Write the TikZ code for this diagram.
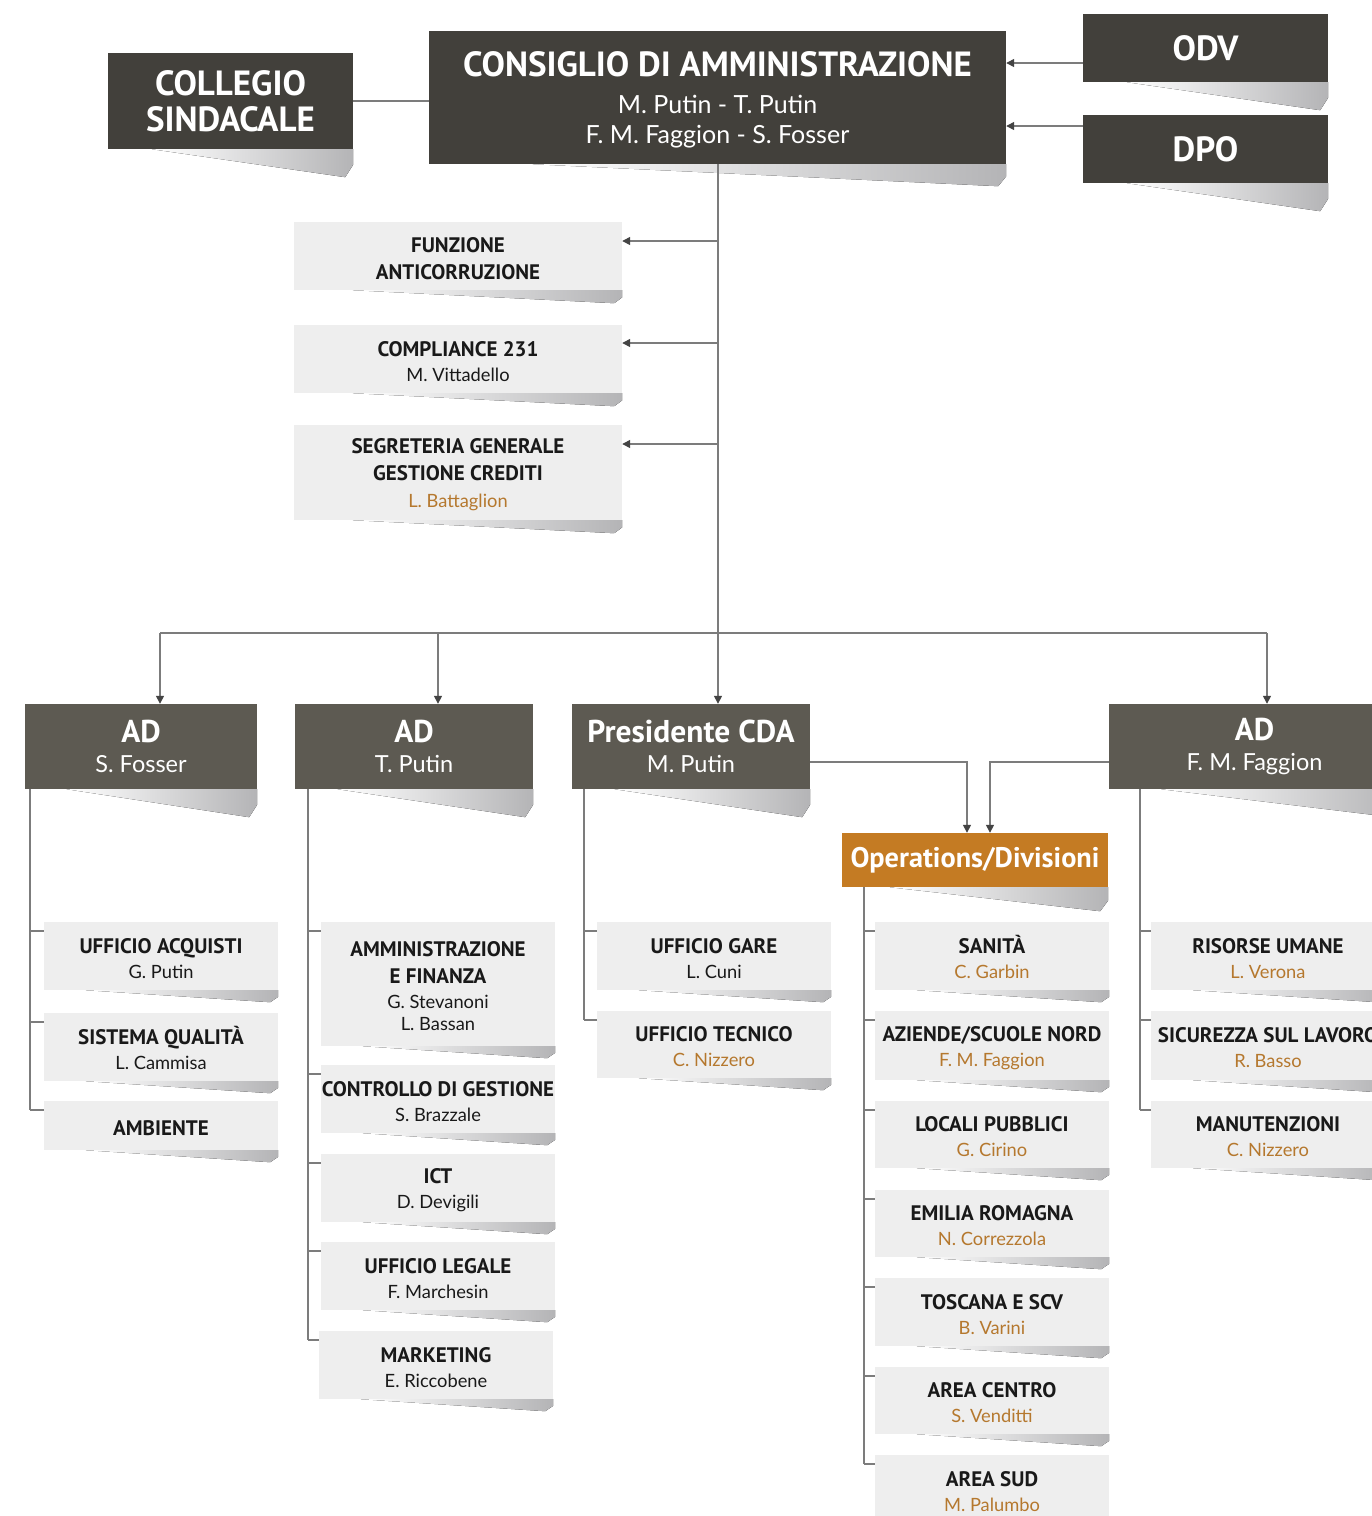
\documentclass[tikz,border=0pt]{standalone}
\usepackage{fontspec}
\setmainfont{PT Sans}
\newfontfamily\nf{Lato}
\usetikzlibrary{arrows.meta,calc}
\definecolor{dark}{HTML}{42403B}
\definecolor{mid}{HTML}{5D5A52}
\definecolor{ora}{HTML}{C47B23}
\definecolor{lite}{HTML}{EEEEEE}
\definecolor{nm}{HTML}{B5782E}
\definecolor{lnc}{HTML}{7C7C7C}
\definecolor{tipc}{HTML}{444444}
\definecolor{shc}{HTML}{B4B4B6}
\newcommand\bt[1]{{\rmfamily\bfseries #1}}
\newcommand\st[1]{{\fontsize{21}{25}\selectfont\rmfamily\bfseries\rule{0pt}{20pt}#1}}
\newcommand\on[1]{\textcolor{nm}{#1}}
\newcommand\mkbox[7]{%
  \node[#2, minimum width={(#5-#3)*1pt}, minimum height={(#6-#4)*1pt}] (#1) at ({(#3+#5)/2},{-(#4+#6)/2}) {#7};}
\newcommand\shad[2]{%
  \fill[left color=white, right color=shc] ($(#1.south west)!0.18!(#1.south east)$) -- (#1.south east) -- ($(#1.south east)+(0,{-0.55*#2})$) -- ($(#1.south east)+(-8,-#2)$) -- cycle;}
\newcommand\att[2]{%
  \coordinate (#1-a) at ($(#1.north west)+(0,-9)$);
  \draw[ln] (#1-a) -- (#2 |- #1-a);}
\begin{document}
\begin{tikzpicture}[x=1pt,y=1pt,
  ln/.style={draw=lnc, line width=1.4pt},
  arr/.style={ln, -{Triangle[length=8pt,width=8pt,color=tipc]}},
  topbox/.style={fill=dark, text=white, inner sep=0pt, align=center},
  adbox/.style={fill=mid, text=white, inner sep=0pt, align=center, font=\fontsize{23.5}{30}\selectfont\nf},
  opbox/.style={fill=ora, text=white, inner sep=0pt, align=center, font=\fontsize{28.3}{30}\selectfont\rmfamily\bfseries},
  lbox/.style={fill=lite, text=black!90, inner sep=0pt, align=center, font=\fontsize{18.3}{25}\selectfont\nf}
]
\clip (0,0) rectangle (1372,-1516);
\fill[white] (0,0) rectangle (1372,-1516);

% ---------- top level ----------
\mkbox{col}{topbox, font=\fontsize{35}{36}\selectfont\bfseries}{108}{53}{353}{149}{COLLEGIO\\SINDACALE}
\mkbox{cda}{topbox, font=\fontsize{25}{30}\selectfont\nf}{429}{31}{1006}{164}{{\fontsize{35}{35}\selectfont\rmfamily\bfseries\rule{0pt}{30pt}CONSIGLIO DI AMMINISTRAZIONE}\\[7pt]M. Putin - T. Putin\\F. M. Faggion - S. Fosser}
\mkbox{odv}{topbox, font=\fontsize{35}{35}\selectfont\bfseries}{1083}{14}{1328}{82}{ODV}
\mkbox{dpo}{topbox, font=\fontsize{35}{35}\selectfont\bfseries}{1083}{115}{1328}{183}{DPO}
\shad{col}{28}\shad{cda}{22}\shad{odv}{28}\shad{dpo}{28}

% ---------- staff ----------
\mkbox{funz}{lbox}{294}{222}{622}{290}{\st{FUNZIONE}\\[2pt]\st{ANTICORRUZIONE}}
\mkbox{comp}{lbox}{294}{325}{622}{393}{\st{COMPLIANCE 231}\\M. Vittadello}
\mkbox{segr}{lbox}{294}{425}{622}{520}{\st{SEGRETERIA GENERALE}\\[2pt]\st{GESTIONE CREDITI}\\[2pt]\on{L. Battaglion}}
\shad{funz}{13}\shad{comp}{13}\shad{segr}{13}

% ---------- AD level ----------
\mkbox{adf}{adbox}{25}{704}{257}{789}{\bt{\fontsize{31.5}{31}\selectfont AD}\\S. Fosser}
\mkbox{adp}{adbox}{295}{704}{533}{789}{\bt{\fontsize{31.5}{31}\selectfont AD}\\T. Putin}
\mkbox{pres}{adbox}{572}{704}{810}{789}{\bt{\fontsize{31.5}{31}\selectfont Presidente CDA}\\M. Putin}
\mkbox{adg}{adbox}{1109}{704}{1400}{789}{\bt{\fontsize{31.5}{31}\selectfont AD}\\F. M. Faggion}
\shad{adf}{28}\shad{adp}{28}\shad{pres}{28}\shad{adg}{28}
\mkbox{ops}{opbox}{842}{833}{1108}{887}{Operations/Divisioni}
\shad{ops}{24}

% ---------- column 1 ----------
\mkbox{acq}{lbox}{44}{922}{278}{990}{\st{UFFICIO ACQUISTI}\\G. Putin}
\mkbox{qual}{lbox}{44}{1013}{278}{1081}{\st{SISTEMA QUALITÀ}\\L. Cammisa}
\mkbox{amb}{lbox}{44}{1101}{278}{1150}{\st{AMBIENTE}}
% ---------- column 2 ----------
\mkbox{amm}{lbox}{321}{922}{555}{1046}{\st{AMMINISTRAZIONE}\\[2pt]\st{E FINANZA}\\G. Stevanoni\\[-3pt]L. Bassan}
\mkbox{cdg}{lbox}{321}{1065}{555}{1133}{\st{CONTROLLO DI GESTIONE}\\S. Brazzale}
\mkbox{ict}{lbox}{321}{1154}{555}{1222}{\st{ICT}\\D. Devigili}
\mkbox{leg}{lbox}{321}{1242}{555}{1310}{\st{UFFICIO LEGALE}\\F. Marchesin}
\mkbox{mkt}{lbox}{319}{1331}{553}{1399}{\st{MARKETING}\\E. Riccobene}
% ---------- column 3 ----------
\mkbox{gare}{lbox}{597}{922}{831}{990}{\st{UFFICIO GARE}\\L. Cuni}
\mkbox{tecn}{lbox}{597}{1011}{831}{1078}{\st{UFFICIO TECNICO}\\\on{C. Nizzero}}
% ---------- column 4 ----------
\mkbox{san}{lbox}{875}{922}{1109}{990}{\st{SANITÀ}\\\on{C. Garbin}}
\mkbox{azi}{lbox}{875}{1011}{1109}{1080}{\st{AZIENDE/SCUOLE NORD}\\\on{F. M. Faggion}}
\mkbox{loc}{lbox}{875}{1101}{1109}{1168}{\st{LOCALI PUBBLICI}\\\on{G. Cirino}}
\mkbox{emi}{lbox}{875}{1190}{1109}{1257}{\st{EMILIA ROMAGNA}\\\on{N. Correzzola}}
\mkbox{tos}{lbox}{875}{1278}{1109}{1346}{\st{TOSCANA E SCV}\\\on{B. Varini}}
\mkbox{cen}{lbox}{875}{1367}{1109}{1434}{\st{AREA CENTRO}\\\on{S. Venditti}}
\mkbox{sud}{lbox}{875}{1455}{1109}{1523}{\st{AREA SUD}\\\on{M. Palumbo}}
% ---------- column 5 ----------
\mkbox{ris}{lbox}{1151}{922}{1385}{990}{\st{RISORSE UMANE}\\\on{L. Verona}}
\mkbox{sic}{lbox}{1151}{1011}{1385}{1080}{\st{SICUREZZA SUL LAVORO}\\\on{R. Basso}}
\mkbox{man}{lbox}{1151}{1101}{1385}{1168}{\st{MANUTENZIONI}\\\on{C. Nizzero}}

\foreach \b in {acq,qual,amb,amm,cdg,ict,leg,mkt,gare,tecn,san,azi,loc,emi,tos,cen,ris,sic,man}{\shad{\b}{12}}

% ---------- connectors: top ----------
\draw[ln] (col.east) -- (col.east -| cda.west);
\coordinate (yo) at (0,-63);
\coordinate (yd) at (0,-126);
\draw[arr] (odv.west |- yo) -- (cda.east |- yo);
\draw[arr] (dpo.west |- yd) -- (cda.east |- yd);
\coordinate (tr) at (718,0);
\draw[arr] (tr |- cda.south) -- (tr |- pres.north);
\coordinate (yf) at (0,-241);
\coordinate (yc) at (0,-343);
\coordinate (ys) at (0,-444);
\draw[arr] (tr |- yf) -- (funz.east |- yf);
\draw[arr] (tr |- yc) -- (comp.east |- yc);
\draw[arr] (tr |- ys) -- (segr.east |- ys);
% bus
\coordinate (bus) at (0,-633);
\coordinate (xf) at (160,0);
\coordinate (xp) at (438,0);
\coordinate (xg) at (1267,0);
\draw[ln] (xf |- bus) -- (xg |- bus);
\draw[arr] (xf |- bus) -- (xf |- adf.north);
\draw[arr] (xp |- bus) -- (xp |- adp.north);
\draw[arr] (xg |- bus) -- (xg |- adg.north);
% to operations
\coordinate (ya) at (0,-762);
\coordinate (x1) at (967,0);
\coordinate (x2) at (990,0);
\draw[arr] (pres.east |- ya) -| (x1 |- ops.north);
\draw[arr] (adg.west |- ya) -| (x2 |- ops.north);

% ---------- connectors: columns ----------
\coordinate (c1) at (30,0);
\coordinate (c2) at (308,0);
\coordinate (c3) at (584,0);
\coordinate (c4) at (864,0);
\coordinate (c5) at (1140,0);
\foreach \b in {acq,qual,amb}{\att{\b}{c1}}
\foreach \b in {amm,cdg,ict,leg,mkt}{\att{\b}{c2}}
\foreach \b in {gare,tecn}{\att{\b}{c3}}
\foreach \b in {san,azi,loc,emi,tos,cen,sud}{\att{\b}{c4}}
\foreach \b in {ris,sic,man}{\att{\b}{c5}}
\draw[ln] (c1 |- adf.south) -- (c1 |- amb-a);
\draw[ln] (c2 |- adp.south) -- (c2 |- mkt-a);
\draw[ln] (c3 |- pres.south) -- (c3 |- tecn-a);
\draw[ln] (c4 |- ops.south) -- (c4 |- sud-a);
\draw[ln] (c5 |- adg.south) -- (c5 |- man-a);
\end{tikzpicture}
\end{document}
